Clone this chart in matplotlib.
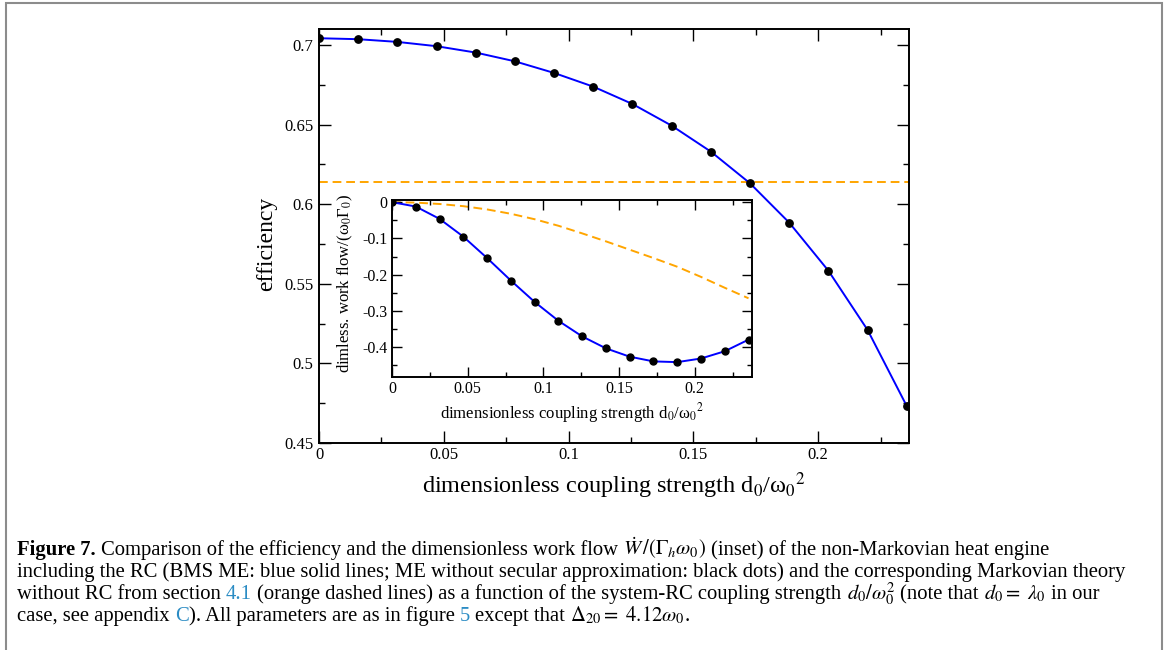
import matplotlib
matplotlib.use('Agg')
import matplotlib.pyplot as plt
from matplotlib.ticker import MultipleLocator, FuncFormatter
from matplotlib.patches import Rectangle

plt.rcParams['font.family'] = ['Liberation Serif', 'DejaVu Serif']
plt.rcParams['mathtext.fontset'] = 'stix'

# ---------------- data ----------------
coupling = [0.0, 0.0157, 0.0314, 0.0471, 0.0628, 0.0785, 0.0942, 0.1099,
            0.1256, 0.1413, 0.1570, 0.1727, 0.1884, 0.2041, 0.2198, 0.2355]
efficiency_bms = [0.7042, 0.7036, 0.7019, 0.6992, 0.6952, 0.6897, 0.6824, 0.6738,
                  0.6629, 0.6493, 0.6330, 0.6131, 0.5884, 0.5582, 0.5210, 0.4732]
efficiency_nonsec = [0.7042, 0.7036, 0.7019, 0.6992, 0.6952, 0.6897, 0.6824, 0.6738,
                     0.6629, 0.6493, 0.6330, 0.6131, 0.5884, 0.5582, 0.5210, 0.4732]
efficiency_markov = 0.6139

work_bms = [0.0, -0.012, -0.046, -0.095, -0.154, -0.216, -0.275, -0.327,
            -0.370, -0.403, -0.426, -0.439, -0.441, -0.431, -0.411, -0.379]
work_nonsec = [0.0, -0.012, -0.046, -0.095, -0.154, -0.216, -0.275, -0.327,
               -0.370, -0.403, -0.426, -0.439, -0.441, -0.431, -0.411, -0.379]
work_markov = [0.0, -0.0012, -0.005, -0.011, -0.020, -0.032, -0.047, -0.065,
               -0.086, -0.108, -0.131, -0.154, -0.178, -0.206, -0.236, -0.265]

main_xticks = [0, 0.05, 0.1, 0.15, 0.2]
main_yticks = [0.45, 0.5, 0.55, 0.6, 0.65, 0.7]
inset_xticks = [0, 0.05, 0.1, 0.15, 0.2]
inset_yticks = [-0.4, -0.3, -0.2, -0.1, 0]

# ---------------- style ----------------
W, H = 1168, 650
BLUE = '#0000ff'
ORANGE = '#ffa500'
LINK = '#2b8cc4'
DASH = (0, (4.5, 2.5))

fig = plt.figure(figsize=(W / 100, H / 100), dpi=100)
fig.patch.set_facecolor('white')

fmt = FuncFormatter(lambda v, p: '%g' % (round(v, 4) + 0.0))


def style_axes(a, major_len, minor_len, lsize, xpad, ypad):
    for s in a.spines.values():
        s.set_linewidth(1.4)
    a.tick_params(which='both', direction='in', top=True, right=True,
                  width=1.0, colors='black', labelsize=lsize)
    a.tick_params(which='major', length=major_len)
    a.tick_params(which='minor', length=minor_len)
    a.tick_params(axis='x', which='both', pad=xpad)
    a.tick_params(axis='y', which='both', pad=ypad)
    a.xaxis.set_major_formatter(fmt)
    a.yaxis.set_major_formatter(fmt)


# ---------------- main axes ----------------
ax = fig.add_axes([319 / W, 1 - 443 / H, 590 / W, 414 / H])
ax.plot(coupling, efficiency_bms, color=BLUE, lw=1.4, zorder=2)
ax.plot(coupling, efficiency_nonsec, 'o', color='black', ms=5.3, zorder=3)
ax.axhline(efficiency_markov, color=ORANGE, lw=1.4, ls=DASH, zorder=1)
ax.set_xlim(0, 0.2364)
ax.set_ylim(0.45, 0.71)
ax.set_xticks(main_xticks)
ax.set_yticks(main_yticks)
ax.xaxis.set_minor_locator(MultipleLocator(0.025))
ax.yaxis.set_minor_locator(MultipleLocator(0.025))
style_axes(ax, 8.5, 4.3, 12, 3.0, 4)

ax.set_xlabel('dimensionless coupling strength d$_0$/ω$_0$$^2$', fontsize=17.5)
ax.xaxis.set_label_coords(0.5, -(493 - 443) / 414)
ax.xaxis.label.set_va('baseline')
ax.set_ylabel('efficiency', fontsize=17)
ax.yaxis.set_label_coords((267 - 319) / 590, 1 - (244 - 29) / 414)
ax.yaxis.label.set_va('center')

# ---------------- inset ----------------
axi = fig.add_axes([392 / W, 1 - 377 / H, 360 / W, 177 / H])
axi.set_facecolor('white')
axi.plot(coupling, work_markov, color=ORANGE, lw=1.4, ls=DASH, zorder=1)
axi.plot(coupling, work_bms, color=BLUE, lw=1.4, zorder=2)
axi.plot(coupling, work_nonsec, 'o', color='black', ms=5.0, zorder=3)
axi.set_xlim(0, 0.2378)
axi.set_ylim(-0.482, 0.006)
axi.set_xticks(inset_xticks)
axi.set_yticks(inset_yticks)
axi.xaxis.set_minor_locator(MultipleLocator(0.025))
axi.yaxis.set_minor_locator(MultipleLocator(0.05))
style_axes(axi, 7, 3.5, 11.5, 3.0, 3.5)

axi.set_xlabel('dimensionless coupling strength d$_0$/ω$_0$$^2$', fontsize=12)
axi.xaxis.set_label_coords(0.5, -(418 - 377) / 177)
axi.xaxis.label.set_va('baseline')
axi.set_ylabel('dimless. work flow/(ω$_0$Γ$_0$)', fontsize=12)
axi.yaxis.set_label_coords((345 - 392) / 360, 1 - (283 - 200) / 177)
axi.yaxis.label.set_va('center')

# ---------------- frame ----------------
fig.add_artist(Rectangle((5.7 / W, -0.1), (1162.3 - 5.7) / W, 1.1 - 2.7 / H,
                         transform=fig.transFigure, fill=False,
                         edgecolor='#8c8c8c', linewidth=1.5))

# ---------------- caption ----------------
renderer = fig.canvas.get_renderer()
line2 = ('including the RC (BMS ME: blue solid lines; ME without secular '
         'approximation: black dots) and the corresponding Markovian theory')
probe = fig.text(0, 0, line2, fontsize=10)
wprobe = probe.get_window_extent(renderer).width
probe.remove()
cap_fs = 10 * (1132 - 17) / wprobe

caption = [
    [("Figure 7.", 'black', 'bold', True),
     ("Comparison of the efficiency and the dimensionless work flow", 'black', 'normal', True),
     (r"$\dot{W}\,/(\Gamma_h\omega_0)$", 'black', 'normal', True),
     ("(inset) of the non-Markovian heat engine", 'black', 'normal', False)],
    [(line2, 'black', 'normal', False)],
    [("without RC from section", 'black', 'normal', True),
     ("4.1", LINK, 'normal', True),
     ("(orange dashed lines) as a function of the system-RC coupling strength", 'black', 'normal', True),
     (r"$d_0/\omega_0^2$", 'black', 'normal', True),
     ("(note that", 'black', 'normal', True),
     (r"$d_0 =\ \lambda_0$", 'black', 'normal', True),
     ("in our", 'black', 'normal', False)],
    [("case, see appendix", 'black', 'normal', True),
     ("C", LINK, 'normal', False),
     ("). All parameters are as in figure", 'black', 'normal', True),
     ("5", LINK, 'normal', True),
     ("except that", 'black', 'normal', True),
     (r"$\Delta_{20} =\ 4.12\omega_0$", 'black', 'normal', False),
     (".", 'black', 'normal', False)],
]
baselines = [555, 577, 599, 621]
space = 0.25 * cap_fs * 100 / 72

for segs, yb in zip(caption, baselines):
    x = 17.0
    for text, col, wt, sp in segs:
        t = fig.text(x / W, 1 - yb / H, text, fontsize=cap_fs, color=col,
                     fontweight=wt, ha='left', va='baseline')
        bb = t.get_window_extent(renderer)
        x = bb.x1 + (space if sp else 0.0)

fig.savefig('out.png', dpi=100)
